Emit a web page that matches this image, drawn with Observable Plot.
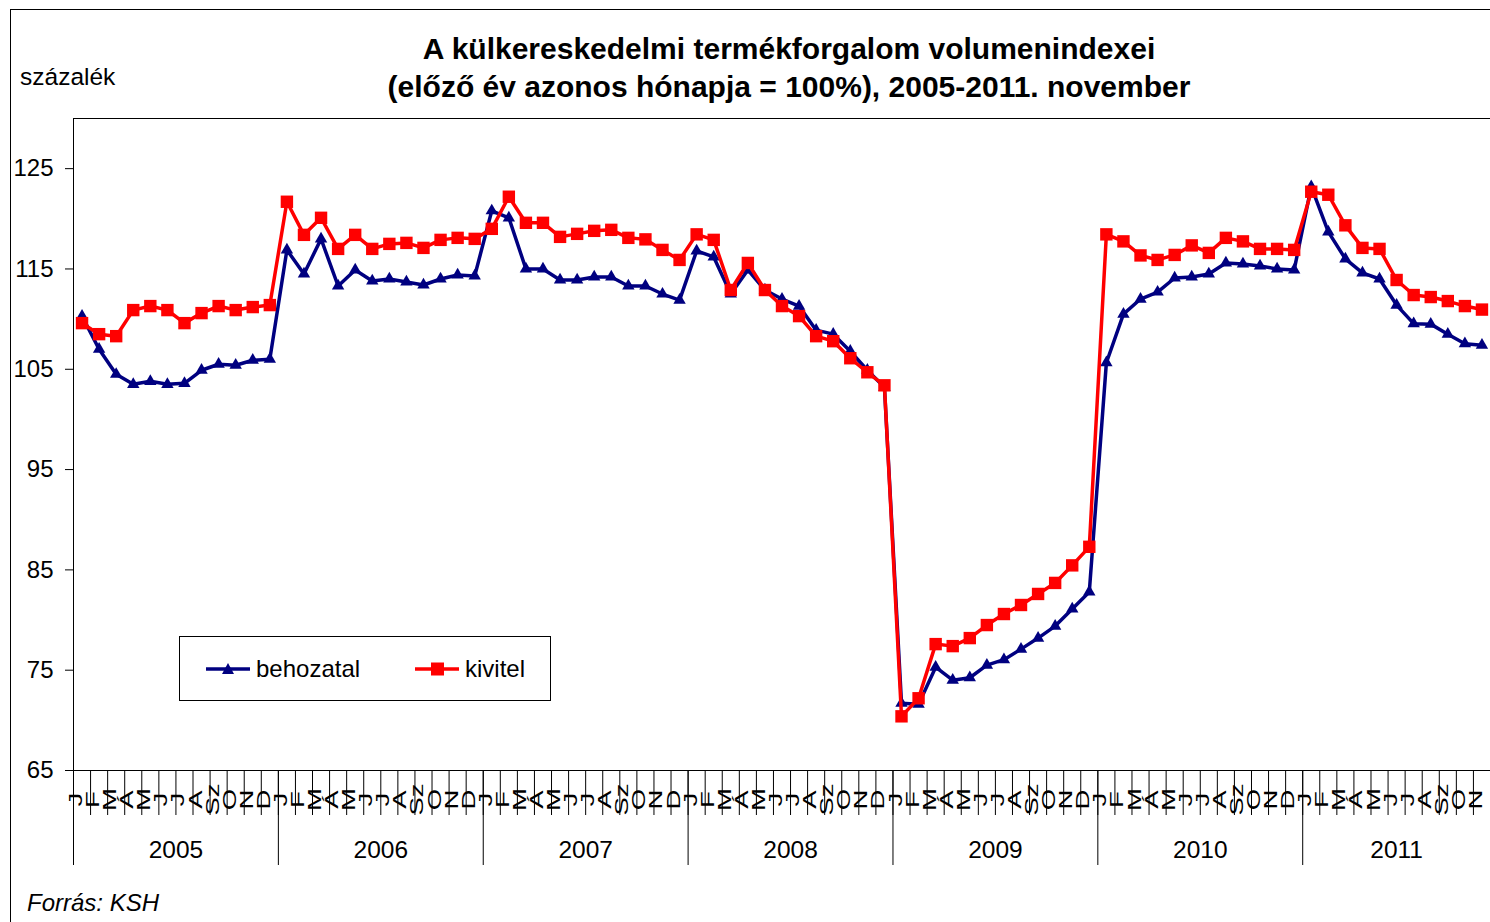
<!DOCTYPE html>
<html><head><meta charset="utf-8">
<script src="https://cdn.jsdelivr.net/npm/d3@7"></script>
<script src="https://cdn.jsdelivr.net/npm/@observablehq/plot@0.6"></script>
<style>
body{margin:0;background:#fff;font-family:"Liberation Sans",Arial,sans-serif;color:#000;}
#wrap{position:relative;width:1490px;height:922px;overflow:hidden;background:#fff;}
#border{position:absolute;left:10px;top:9px;width:1520px;height:960px;border:1px solid #000;box-sizing:border-box;}
#chart{position:absolute;left:0;top:0;}
.t{position:absolute;white-space:nowrap;}
.title{left:0;width:1578px;text-align:center;font-weight:bold;font-size:30px;line-height:38px;}
#legend{position:absolute;left:179px;top:636px;width:372px;height:65px;border:1px solid #000;box-sizing:border-box;background:#fff;}
#legend .item{position:absolute;top:0;height:63px;display:flex;align-items:center;font-size:24px;}
</style></head>
<body>
<div id="wrap">
  <div id="border"></div>
  <div id="chart"></div>
  <div class="t title" style="top:30px">A külkereskedelmi termékforgalom volumenindexei</div>
  <div class="t title" style="top:68px">(előző év azonos hónapja = 100%), 2005-2011. november</div>
  <div class="t" style="left:20px;top:62px;font-size:24.5px;line-height:30px">százalék</div>
  <div id="legend"></div>
  <div class="t" style="left:27px;top:888px;font-size:24px;line-height:30px;font-style:italic">Forrás: KSH</div>
</div>
<script>
const monthLabels = ["J","F","M","Á","M","J","J","A","Sz","O","N","D"];
const years = [2005, 2006, 2007, 2008, 2009, 2010, 2011];
const yTicks = [65, 75, 85, 95, 105, 115, 125];
const seriesNames = ["behozatal", "kivitel"];
const behozatal = [
  110.3, 107.0, 104.5, 103.5, 103.8, 103.5, 103.6, 104.9, 105.5, 105.4, 105.9, 106.0,
  116.9, 114.5, 118.0, 113.3, 114.9, 113.8, 114.0, 113.7, 113.4, 114.0, 114.4, 114.3,
  120.8, 120.1, 115.0, 115.0, 113.9, 113.9, 114.2, 114.2, 113.3, 113.3, 112.5, 111.9,
  116.8, 116.2, 112.5, 114.9, 112.9, 112.0, 111.3, 108.9, 108.5, 106.8, 104.9, 103.2,
  71.7, 71.6, 75.3, 74.0, 74.25, 75.5, 76.05, 77.1, 78.2, 79.4, 81.1, 82.8,
  105.65, 110.5, 112.0, 112.7, 114.1, 114.2, 114.5, 115.6, 115.5, 115.3, 115.0, 114.9,
  123.2, 118.7, 116.0, 114.6, 114.0, 111.4, 109.55, 109.5, 108.5, 107.55, 107.4
];
const kivitel = [
  109.6, 108.5, 108.3, 110.9, 111.3, 110.9, 109.6, 110.6, 111.3, 110.9, 111.2, 111.4,
  121.7, 118.4, 120.1, 117.0, 118.4, 117.0, 117.5, 117.6, 117.1, 117.9, 118.1, 118.0,
  119.0, 122.2, 119.6, 119.6, 118.2, 118.5, 118.8, 118.9, 118.1, 117.95, 116.9, 115.9,
  118.45, 117.9, 112.9, 115.6, 112.9, 111.3, 110.3, 108.3, 107.8, 106.1, 104.7, 103.4,
  70.4, 72.2, 77.6, 77.4, 78.2, 79.5, 80.6, 81.5, 82.6, 83.7, 85.45, 87.3,
  118.45, 117.75, 116.35, 115.9, 116.4, 117.35, 116.6, 118.1, 117.75, 117.0, 117.0, 116.9,
  122.7, 122.4, 119.35, 117.1, 117.0, 113.9, 112.4, 112.2, 111.8, 111.3, 110.95
];

const NAVY = "#000080", RED = "#ff0000";
const n = behozatal.length;
const data = behozatal.map((v, i) => ({
  i, pos: i + 0.5, month: monthLabels[i % 12], b: v, k: kivitel[i]
}));
const monthBounds = d3.range(0, n + 1);
const yearInfo = years.map((yr, j) => {
  const start = j * 12, count = Math.min(12, n - start);
  return {yr, start, mid: start + count / 2};
});
const yearBounds = yearInfo.map(d => d.start);

const chart = Plot.plot({
  width: 1490, height: 922,
  marginLeft: 73, marginRight: 0, marginTop: 118, marginBottom: 152,
  x: {domain: [0, n], axis: null},
  y: {domain: [65, 130], axis: null},
  style: {fontFamily: "'Liberation Sans', Arial, sans-serif", background: "transparent", overflow: "visible", color: "#000"},
  marks: [
    Plot.ruleY([130], {stroke: "#000", strokeWidth: 1}),
    Plot.ruleY([65], {stroke: "#000", strokeWidth: 1}),
    Plot.ruleX([0], {stroke: "#000", strokeWidth: 1}),
    Plot.axisY({ticks: yTicks, tickSize: 8, tickPadding: 12, fontSize: 24, label: null, stroke: "#000"}),
    Plot.axisX(monthBounds, {tickSize: 45, tickFormat: () => "", label: null, stroke: "#000"}),
    Plot.axisX(yearBounds, {tickSize: 95, tickFormat: () => "", label: null, stroke: "#000"}),
    Plot.text(data, {x: "pos", text: "month", frameAnchor: "bottom", dy: 29, rotate: -90,
      fontSize: 19, textAnchor: "middle"}),
    Plot.text(yearInfo, {x: "mid", text: d => String(d.yr), frameAnchor: "bottom", dy: 87, fontSize: 24.5}),
    Plot.line(data, {x: "pos", y: "b", stroke: NAVY, strokeWidth: 3.5}),
    Plot.dot(data, {x: "pos", y: "b", symbol: "triangle", fill: NAVY, r: 4.6}),
    Plot.line(data, {x: "pos", y: "k", stroke: RED, strokeWidth: 3.5}),
    Plot.dot(data, {x: "pos", y: "k", symbol: "square", fill: RED, r: 7})
  ]
});
document.getElementById("chart").appendChild(chart);

// stretch the vertical month labels along their text direction, as in the original
Array.from(chart.querySelectorAll("text")).forEach(el => {
  const tr = el.getAttribute("transform") || "";
  if (tr.includes("rotate(-90)")) {
    el.setAttribute("transform", tr + " scale(1.45,1)");
  }
});

// legend
const leg = document.getElementById("legend");
const items = [
  {name: seriesNames[0], color: NAVY, sym: "triangle", left: 26},
  {name: seriesNames[1], color: RED, sym: "square", left: 235}
];
items.forEach(it => {
  const div = document.createElement("div");
  div.className = "item";
  div.style.left = it.left + "px";
  const marker = it.sym === "triangle"
    ? `<path d="M22,-6 L28,5 L16,5 Z" fill="${it.color}"/>`
    : `<rect x="16" y="-6.5" width="13" height="13" fill="${it.color}"/>`;
  div.innerHTML = `<svg width="48" height="20" viewBox="0 -10 48 20" style="overflow:visible"><line x1="0" x2="44" y1="0" y2="0" stroke="${it.color}" stroke-width="3.5"/>${marker}</svg><span style="margin-left:2px">${it.name}</span>`;
  leg.appendChild(div);
});
</script>
</body></html>
